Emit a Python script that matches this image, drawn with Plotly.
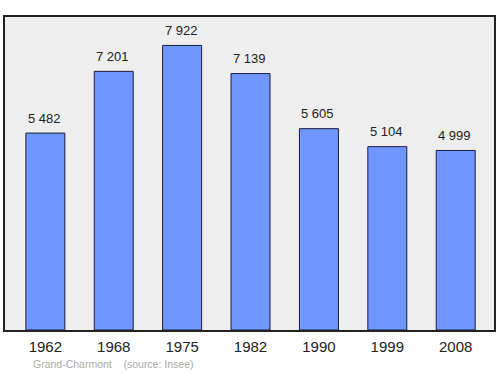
import plotly.graph_objects as go

years = ["1962", "1968", "1975", "1982", "1990", "1999", "2008"]
population = [5482, 7201, 7922, 7139, 5605, 5104, 4999]
value_labels = ["5 482", "7 201", "7 922", "7 139", "5 605", "5 104", "4 999"]
footer = "Grand-Charmont &nbsp;&nbsp;&nbsp;(source: Insee)"

fig = go.Figure()
fig.add_trace(go.Bar(
    x=years, y=population,
    marker=dict(color="#7096ff", line=dict(color="#1c1c3a", width=1)),
    width=0.57, hoverinfo="skip",
))

for i, (v, lab) in enumerate(zip(population, value_labels)):
    fig.add_annotation(x=i, y=v, xref="x", yref="y", text=lab, showarrow=False, yshift=15, xshift=-1,
                       font=dict(family="Liberation Sans, Arial", size=13, color="#222222"))

fig.add_annotation(xref="paper", yref="paper", x=0.053, y=-0.11, xanchor="left", yanchor="middle",
                   text=footer, showarrow=False,
                   font=dict(family="Liberation Sans, Arial", size=10.5, color="#aaaaaa"))

fig.update_layout(
    width=500, height=374,
    margin=dict(l=5, r=6, t=17, b=44),
    paper_bgcolor="white", plot_bgcolor="#eeeeee",
    showlegend=False,
    xaxis=dict(type="category", range=[-0.59, 6.56], showgrid=False, zeroline=False, showline=True,
               linecolor="#222222", linewidth=1.5, mirror=True, ticks="",
               tickfont=dict(family="Liberation Sans, Arial", size=15, color="#222222"),
               ticklabelstandoff=2),
    yaxis=dict(range=[0, 8714], showgrid=False, zeroline=False, showline=True,
               linecolor="#222222", linewidth=1.5, mirror=True, showticklabels=False, ticks=""),
)

fig.write_html("out.html")
